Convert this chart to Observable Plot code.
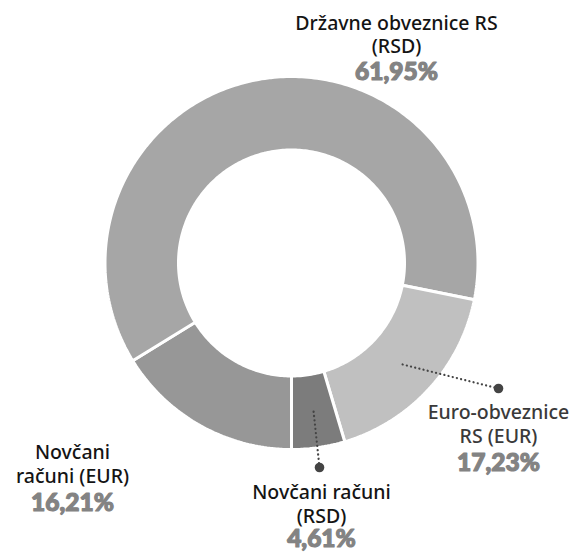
<!DOCTYPE html>
<html><head><meta charset="utf-8">
<script src="https://cdn.jsdelivr.net/npm/d3@7"></script>
<script src="https://cdn.jsdelivr.net/npm/@observablehq/plot@0.6"></script>
<style>body{margin:0;background:#fff}#chart{width:581px;height:552px}</style>
</head><body><div id="chart"></div>
<script>
// ---- data ----
const categories = ["Novčani računi (EUR)", "Državne obveznice RS (RSD)", "Euro-obveznice RS (EUR)", "Novčani računi (RSD)"];
const shares = [16.21, 61.95, 17.23, 4.61];
const percentLabels = ["16,21%", "61,95%", "17,23%", "4,61%"];
const labelLines = [["Novčani", "računi (EUR)"], ["Državne obveznice RS", "(RSD)"], ["Euro-obveznice", "RS (EUR)"], ["Novčani računi", "(RSD)"]];

// ---- layout / style ----
const W = 581, H = 552;
const cx = 291.5, cy = 263, R = 186.5, r0 = 113;
const startAngle = Math.PI; // clockwise from 12 o'clock
const colors = ["#979797", "#a6a6a6", "#c0c0c0", "#7c7c7c"];
const labelColors = ["#141414", "#141414", "#3a3a3a", "#141414"];
const labelPos = [
  {x: 72, lines: [458, 482], pct: 510},
  {x: 396, lines: [29, 52], pct: 79},
  {x: 498, lines: [418, 442], pct: 470},
  {x: 321, lines: [498, 522], pct: 546}
];
const leaderEnds = [null, null, [498, 388], [319, 467]];

const pt = (a, rad) => [cx + rad * Math.sin(a), cy - rad * Math.cos(a)];
const total = d3.sum(shares);
let acc = startAngle;
const slices = categories.map((c, i) => {
  const a0 = acc, a1 = acc + shares[i] / total * 2 * Math.PI;
  acc = a1;
  return {c, i, a0, a1, mid: (a0 + a1) / 2};
});

const ring = [];
for (const s of slices) {
  const n = Math.max(8, Math.ceil((s.a1 - s.a0) * 60));
  for (let k = 0; k <= n; k++) {
    const a = s.a0 + (s.a1 - s.a0) * k / n;
    const [ox, oy] = pt(a, R), [ix, iy] = pt(a, r0);
    ring.push({c: s.c, ox, oy, ix, iy});
  }
}

const leaderPts = [], dots = [];
slices.forEach(s => {
  const e = leaderEnds[s.i];
  if (!e) return;
  const [sx, sy] = pt(s.mid, (R + r0) / 2);
  leaderPts.push({c: s.c, x: sx, y: sy}, {c: s.c, x: e[0], y: e[1]});
  dots.push({x: e[0], y: e[1]});
});

const lineTexts = [], pctTexts = [];
categories.forEach((c, i) => {
  labelLines[i].forEach((t, j) => lineTexts.push({t, x: labelPos[i].x, y: labelPos[i].lines[j], col: labelColors[i]}));
  pctTexts.push({t: percentLabels[i], x: labelPos[i].x, y: labelPos[i].pct});
});

const chart = Plot.plot({
  width: W, height: H,
  margin: 0,
  x: {domain: [0, W], range: [0, W], axis: null},
  y: {domain: [0, H], range: [0, H], axis: null},
  color: {domain: categories, range: colors},
  style: {fontFamily: "'Noto Sans', sans-serif", background: "#fff"},
  marks: [
    Plot.area(ring, {x1: "ox", y1: "oy", x2: "ix", y2: "iy", z: "c", fill: "c", stroke: "white", strokeWidth: 3, strokeLinejoin: "miter"}),
    Plot.line(leaderPts, {x: "x", y: "y", z: "c", stroke: "#444", strokeWidth: 2.2, strokeDasharray: "0.1 4.2", strokeLinecap: "round"}),
    Plot.dot(dots, {x: "x", y: "y", r: 4.8, fill: "#444"}),
    Plot.text(lineTexts, {x: "x", y: "y", text: "t", fill: "col", fontSize: 19.5, fontWeight: 500, lineAnchor: "bottom", textAnchor: "middle"}),
    Plot.text(pctTexts, {x: "x", y: "y", text: "t", fill: "#838383", stroke: "#838383", strokeWidth: 1.2, strokeLinejoin: "round", fontSize: 24.5, fontWeight: 900, lineAnchor: "bottom", textAnchor: "middle", fontFamily: "Lato, sans-serif"})
  ]
});
document.getElementById("chart").append(chart);
</script>
</body></html>
